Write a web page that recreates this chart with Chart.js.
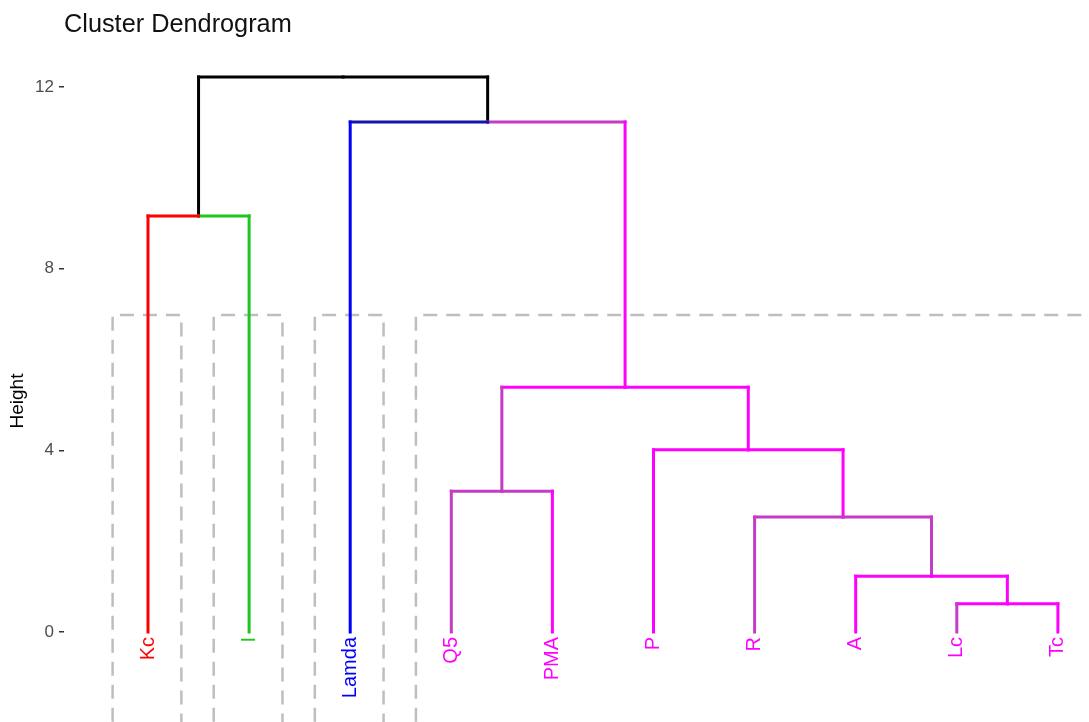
<!DOCTYPE html>
<html>
<head>
<meta charset="utf-8">
<title>Cluster Dendrogram</title>
<script src="https://cdn.jsdelivr.net/npm/chart.js@4.4.1/dist/chart.umd.min.js"></script>
<style>
    html, body { margin: 0; padding: 0; background: #ffffff; }
    canvas { display: block; }
</style>
</head>
<body>
<canvas id="dendroChart" width="1089" height="722"></canvas>
<script>
// Leaves in dendrogram order, and which cluster each belongs to
const leafLabels = ['Kc', 'I', 'Lamda', 'Q5', 'PMA', 'P', 'R', 'A', 'Lc', 'Tc'];
const leafCluster = [0, 1, 2, 3, 3, 3, 3, 3, 3, 3];

// hclust-style merges: negative = leaf (1-based), positive = earlier merge
const mergeA = [-9, -8, -7, -4, -6, 4, -1, -3, 7];
const mergeB = [-10, 1, 2, -5, 3, 5, -2, 6, 8];
const mergeHeight = [0.62, 1.23, 2.53, 3.10, 4.01, 5.39, 9.16, 11.23, 12.22];

const cutHeight = 6.98;
const yTicks = [0, 4, 8, 12];

const clusterColors = ['#FF0000', '#1DC71D', '#0000FF', '#FF00FF'];
const clusterDark = ['#FF0000', '#1DC71D', '#1515A8', '#C43BC4'];
// branches that render a shade darker in the original
const darkV = ['4L', '3L', '3R', '1L', '6L'];
const darkH = ['4L', '4R', '3L', '3R', '8R', '8L'];

const FONT = "'Liberation Sans', Arial, sans-serif";

document.addEventListener('DOMContentLoaded', () => {
    const ctx = document.getElementById('dendroChart').getContext('2d');

    // walk the merges and build one line dataset per branch piece
    const nodeX = [], nodeCl = [];
    const branchSets = [];

    const child = (c) => {
        if (c < 0) return { x: -c, h: 0, cl: leafCluster[-c - 1] };
        return { x: nodeX[c - 1], h: mergeHeight[c - 1], cl: nodeCl[c - 1] };
    };

    const addLine = (points, color) => {
        branchSets.push({
            type: 'line',
            data: points,
            borderColor: color,
            borderWidth: 3,
            borderCapStyle: 'square',
            pointRadius: 0,
            showLine: true,
            fill: false,
            clip: 0,
            order: 1
        });
    };

    mergeA.forEach((a, k) => {
        const left = child(a);
        const right = child(mergeB[k]);
        const h = mergeHeight[k];
        const x = (left.x + right.x) / 2;
        nodeX.push(x);
        nodeCl.push(left.cl === right.cl ? left.cl : -1);

        [[left, 'L'], [right, 'R']].forEach(([s, side]) => {
            const tag = (k + 1) + side;
            const base = s.cl < 0 ? '#000000' : clusterColors[s.cl];
            const dark = s.cl < 0 ? '#000000' : clusterDark[s.cl];
            addLine([{ x: s.x, y: s.h }, { x: s.x, y: h }], darkV.includes(tag) ? dark : base);
            addLine([{ x: s.x, y: h }, { x: x, y: h }], darkH.includes(tag) ? dark : base);
        });
    });

    // dashed boxes round each cluster
    const rectSets = [];
    clusterColors.forEach((_, c) => {
        const idx = leafCluster.map((v, i) => v === c ? i + 1 : null).filter(v => v !== null);
        const x0 = Math.min(...idx) - 0.35;
        const x1 = Math.max(...idx) + (c === clusterColors.length - 1 ? 0.45 : 0.33);
        rectSets.push({
            type: 'line',
            data: [{ x: x0, y: -4 }, { x: x0, y: cutHeight }, { x: x1, y: cutHeight }, { x: x1, y: -4 }],
            borderColor: '#BEBEBE',
            borderWidth: 2.5,
            borderDash: [14, 9],
            pointRadius: 0,
            showLine: true,
            fill: false,
            clip: 0,
            order: 5
        });
    });

    const decorations = {
        id: 'decorations',
        afterDatasetsDraw(chart) {
            const c = chart.ctx;
            const xs = chart.scales.x;
            const ys = chart.scales.y;
            c.save();
            // leaf labels, rotated, hanging below height 0
            c.font = '20px ' + FONT;
            c.textAlign = 'right';
            c.textBaseline = 'middle';
            leafLabels.forEach((lab, i) => {
                c.save();
                c.translate(xs.getPixelForValue(i + 1), ys.getPixelForValue(0) + 5);
                c.rotate(-Math.PI / 2);
                c.fillStyle = clusterColors[leafCluster[i]];
                c.fillText(lab, 0, 0);
                c.restore();
            });
            // title
            c.font = '25.3px ' + FONT;
            c.textAlign = 'left';
            c.textBaseline = 'alphabetic';
            c.fillStyle = '#111111';
            c.fillText('Cluster Dendrogram', 64, 32);
            // y axis title
            c.save();
            c.translate(18, 401);
            c.rotate(-Math.PI / 2);
            c.font = '19px ' + FONT;
            c.textAlign = 'center';
            c.textBaseline = 'middle';
            c.fillStyle = '#000000';
            c.fillText('Height', 0, 0);
            c.restore();
            c.restore();
        }
    };

    new Chart(ctx, {
        type: 'scatter',
        data: { datasets: branchSets.concat(rectSets) },
        options: {
            responsive: false,
            animation: false,
            devicePixelRatio: 1,
            layout: { padding: { top: 40, right: 0, bottom: 0, left: 0 } },
            plugins: {
                legend: { display: false },
                tooltip: { enabled: false },
                title: { display: false }
            },
            scales: {
                x: {
                    type: 'linear',
                    min: 0.1691,
                    max: 10.3076,
                    display: false
                },
                y: {
                    type: 'linear',
                    min: -1.982,
                    max: 13.035,
                    afterBuildTicks: (scale) => {
                        scale.ticks = yTicks.map(v => ({ value: v }));
                    },
                    afterFit: (scale) => {
                        scale.width = 64;
                        scale.paddingTop = 0;
                        scale.paddingBottom = 0;
                    },
                    border: { display: false },
                    grid: {
                        drawOnChartArea: false,
                        drawTicks: true,
                        tickLength: 5,
                        color: '#333333',
                        lineWidth: 1.5
                    },
                    ticks: {
                        padding: 5,
                        color: '#4D4D4D',
                        font: { family: FONT, size: 17 }
                    }
                }
            }
        },
        plugins: [decorations]
    });
});
</script>
</body>
</html>
